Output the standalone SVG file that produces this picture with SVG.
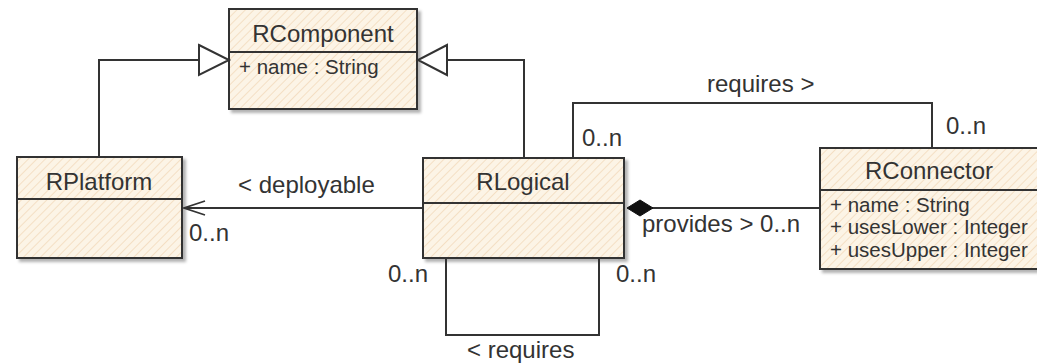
<svg xmlns="http://www.w3.org/2000/svg" width="1037" height="364" viewBox="0 0 1037 364">
  <defs>
    <!-- diagonal hatch used as class fill -->
    <pattern id="hatch" patternUnits="userSpaceOnUse" width="6" height="6" patternTransform="rotate(45)">
      <rect width="6" height="6" fill="#fcf4e6"/>
      <line x1="0" y1="0" x2="0" y2="6" stroke="#f4dfc4" stroke-width="2"/>
    </pattern>
    <filter id="shadow" x="-10%" y="-10%" width="130%" height="130%">
      <feDropShadow dx="3" dy="3" stdDeviation="1.6" flood-color="#000" flood-opacity="0.3"/>
    </filter>
    <!-- open navigation arrowhead, tip at the origin pointing along +x -->
    <marker id="openArrow" markerUnits="userSpaceOnUse" markerWidth="26" markerHeight="20" refX="22" refY="8" orient="auto">
      <path d="M1,1 L22,8 L1,15" fill="none" stroke="#333" stroke-width="1.8"/>
    </marker>
  </defs>
  <style>
    .box { fill: url(#hatch); stroke: #333; stroke-width: 2; filter: url(#shadow); }
    .sep { stroke: #333; stroke-width: 2; }
    .edge { fill: none; stroke: #333; stroke-width: 2; }
    .tri { fill: #fff; stroke: #333; stroke-width: 2; }
    .title { font-family: "Liberation Sans", Arial, sans-serif; font-size: 24px; fill: #333; text-anchor: middle; }
    .attr { font-family: "Liberation Sans", Arial, sans-serif; font-size: 20.5px; fill: #333; }
    .lbl { font-family: "Liberation Sans", Arial, sans-serif; font-size: 24px; fill: #333; }
  </style>
  <rect width="1037" height="364" fill="#fff"/>

  <!-- RComponent -->
  <g id="RComponent">
    <rect class="box" x="229" y="9" width="188" height="100"/>
    <line class="sep" x1="229" y1="52" x2="417" y2="52"/>
    <text class="title" x="323" y="42">RComponent</text>
    <text class="attr" x="239" y="74">+ name : String</text>
  </g>

  <!-- RPlatform -->
  <g id="RPlatform">
    <rect class="box" x="17" y="157" width="165" height="101"/>
    <line class="sep" x1="17" y1="199" x2="182" y2="199"/>
    <text class="title" x="99" y="190">RPlatform</text>
  </g>

  <!-- RLogical -->
  <g id="RLogical">
    <rect class="box" x="423" y="158" width="201" height="100"/>
    <line class="sep" x1="423" y1="203" x2="624" y2="203"/>
    <text class="title" x="523" y="190">RLogical</text>
  </g>

  <!-- RConnector -->
  <g id="RConnector">
    <rect class="box" x="820" y="148" width="222" height="121"/>
    <line class="sep" x1="820" y1="190" x2="1042" y2="190"/>
    <text class="title" x="929" y="179">RConnector</text>
    <text class="attr" x="830" y="212">+ name : String</text>
    <text class="attr" x="830" y="234">+ usesLower : Integer</text>
    <text class="attr" x="830" y="257">+ usesUpper : Integer</text>
  </g>

  <!-- connectors -->
  <g id="connectors">
    <!-- generalization RPlatform -> RComponent -->
    <path class="edge" d="M99,157 V60 H199"/>
    <polygon class="tri" points="199,45 229,60 199,75"/>
    <!-- generalization RLogical -> RComponent -->
    <path class="edge" d="M524,158 V60 H447"/>
    <polygon class="tri" points="447,45 418,60 447,75"/>
    <!-- deployable association -->
    <path class="edge" d="M422,208 H184" marker-end="url(#openArrow)"/>
    <text class="lbl" x="238" y="193">&lt; deployable</text>
    <text class="lbl" x="189" y="241">0..n</text>
    <!-- requires association RLogical -> RConnector -->
    <path class="edge" d="M573,157 V103 H932 V147"/>
    <text class="lbl" x="707" y="92">requires &gt;</text>
    <text class="lbl" x="582" y="146">0..n</text>
    <text class="lbl" x="946" y="134">0..n</text>
    <!-- provides composition -->
    <path class="edge" d="M652,208 H819"/>
    <polygon points="627,208 640,200 653,208 640,216" fill="#111" stroke="#111" stroke-width="1"/>
    <text class="lbl" x="642" y="232">provides &gt; 0..n</text>
    <!-- self association on RLogical -->
    <path class="edge" d="M446,259 V335 H599 V259"/>
    <text class="lbl" x="388" y="282">0..n</text>
    <text class="lbl" x="616" y="282">0..n</text>
    <text class="lbl" x="467" y="358">&lt; requires</text>
  </g>
</svg>
